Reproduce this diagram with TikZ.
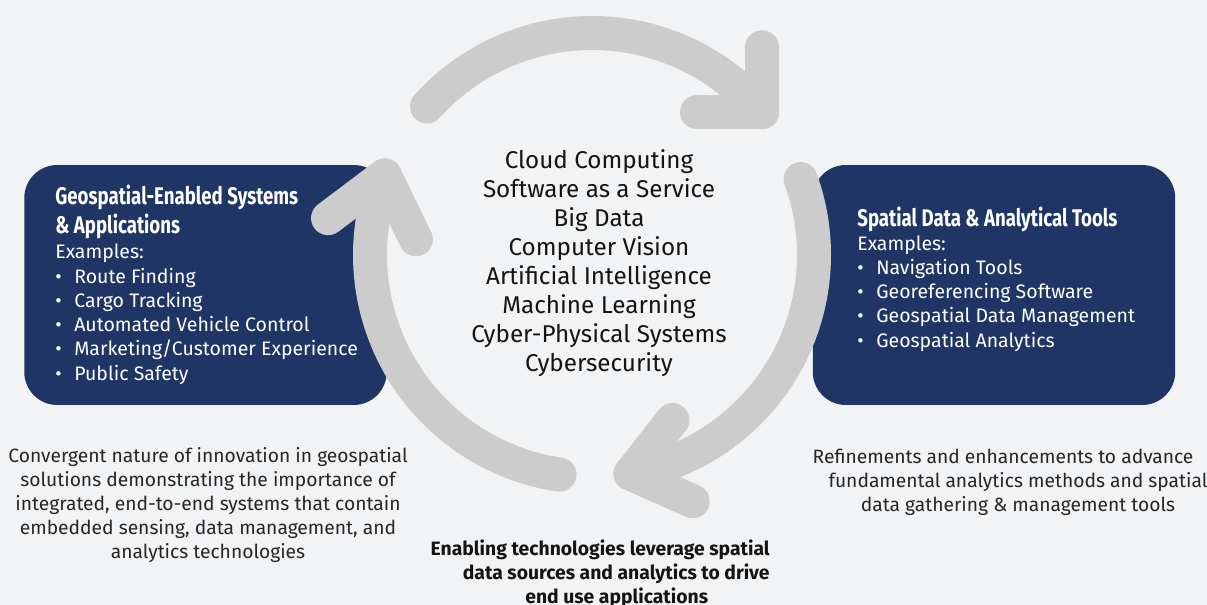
\documentclass[tikz,border=0pt]{standalone}
\usepackage{fontspec}
\setmainfont{Fira Sans}
\newfontfamily\headfont{Fira Sans}[FakeStretch=0.775]
\usepackage{tikz}
\usetikzlibrary{positioning, calc}
\usepackage{xcolor}
\definecolor{pagebg}{HTML}{F2F3F5}
\definecolor{navy}{HTML}{1F3566}
\definecolor{cyclegray}{HTML}{CCCCCC}
\definecolor{inkblack}{HTML}{141414}
\definecolor{notegray}{HTML}{262626}

% bullet item inside the panels
\newcommand{\bitem}[1]{\makebox[10.8pt][l]{\textbullet}#1}

\begin{document}
\begin{tikzpicture}[
    x=0.02cm, y=0.02cm,
    % Base styles
    basetext/.style={inner sep=0pt, align=left, text=white},
    % Rounded dark panels
    panel/.style={rectangle, rounded corners=0.66cm, fill=navy, minimum width=7.25cm, minimum height=4.8cm, inner sep=0pt},
    headtext/.style={basetext, font=\headfont\bfseries\fontsize{13.7}{16}\selectfont},
    listtext/.style={basetext, font=\fontsize{11.1}{13.8}\selectfont},
    % Technologies in the middle of the cycle
    techtext/.style={inner sep=0pt, align=center, text=inkblack, font=\fontsize{13.8}{16.5}\selectfont},
    % Notes under the panels
    notetext/.style={inner sep=0pt, align=center, text=notegray, font=\fontsize{10.95}{13.6}\selectfont},
    enabletext/.style={inner sep=0pt, align=right, text=inkblack, font=\bfseries\fontsize{11}{13.6}\selectfont},
    % Cycle arrows
    cyclearc/.style={draw=cyclegray, line width=0.68cm, line cap=round},
    cyclehead/.style={cyclearc, line join=round},
]

% Page background
\fill[pagebg] (0,0) rectangle (1207,-605);
\useasboundingbox (0,0) rectangle (1207,-605);

% Left and right panels (anchored at the baseline of their last line)
\node[panel] (geobox) at (205.5,-285) {};
\node[panel] (toolbox) at (994,-285) {};

\node[headtext, anchor=base west] (geohead) at (55,-233) {Geospatial-Enabled Systems\\\& Applications};
\node[listtext, anchor=base west] (geolist) at (55,-380) {Examples:\\
    \bitem{Route Finding}\\
    \bitem{Cargo Tracking}\\
    \bitem{Automated Vehicle Control}\\
    \bitem{Marketing/Customer Experience}\\
    \bitem{Public Safety}};

\node[headtext, anchor=base west] (toolhead) at (857,-226) {Spatial Data \& Analytical Tools};
\node[listtext, anchor=base west] (toollist) at (857,-347) {Examples:\\
    \bitem{Navigation Tools}\\
    \bitem{Georeferencing Software}\\
    \bitem{Geospatial Data Management}\\
    \bitem{Geospatial Analytics}};

% Cycle: three arcs with open heads, drawn over the panels
\coordinate (hub) at (592,-255);
\draw[cyclearc] ($(hub)+(138:222)$) arc[start angle=138, end angle=40, radius=222] coordinate (toptip);
\draw[cyclehead] ($(toptip)+(180:65)$) -- (toptip) -- ++(90:65);

\draw[cyclearc] ($(hub)+(20:222)$) arc[start angle=20, end angle=-80, radius=222] coordinate (righttip);
\draw[cyclehead] ($(righttip)+(52:68)$) -- (righttip) -- ++(-24:68);

\draw[cyclearc] ($(hub)+(261.6:222)$) arc[start angle=261.6, end angle=159, radius=222] coordinate (lefttip);
\draw[cyclehead] ($(lefttip)+(217:71)$) -- (lefttip) -- ++(296:71);

% Center list
\node[techtext, anchor=base] (techs) at (599,-371) {Cloud Computing\\Software as a Service\\Big Data\\Computer Vision\\Artificial Intelligence\\Machine Learning\\Cyber-Physical Systems\\Cybersecurity};

% Notes
\node[notetext, anchor=base] (convnote) at (208,-558) {Convergent nature of innovation in geospatial\\solutions demonstrating the importance of\\integrated, end-to-end systems that contain\\embedded sensing, data management, and\\analytics technologies};
\node[notetext, anchor=base] (refinenote) at (1018,-511) {Refinements and enhancements to advance\hspace{17pt}\mbox{}\\fundamental analytics methods and spatial\\data gathering \& management tools};
\node[enabletext, anchor=base east] (enablenote) at (770,-603) {Enabling technologies leverage spatial\\data sources and analytics to drive\\end use applications\hspace{35pt}\mbox{}};

\end{tikzpicture}
\end{document}
